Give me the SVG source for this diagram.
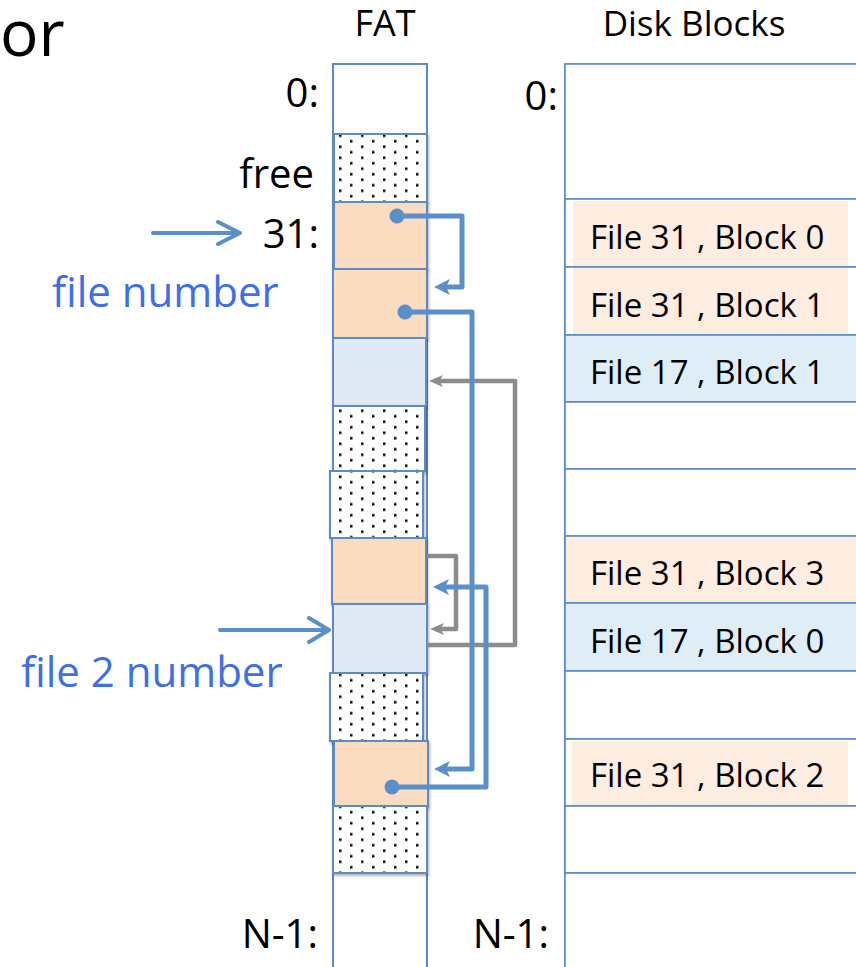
<svg xmlns="http://www.w3.org/2000/svg" width="856" height="967" viewBox="0 0 856 967">
<style>
.t{font-family:"Open Sans","Liberation Sans",sans-serif;fill:#000}
.blk{font-size:33px}
.lbl{font-size:40px;text-anchor:end}
.note{font-family:"Open Sans","Liberation Sans",sans-serif;font-size:42px;fill:#3F6FE8}
.cell{stroke:#5B8BC7;stroke-width:2}
.row{stroke:#5B8BC7;stroke-width:1.6}
.peach{fill:#FADCC0}
.blue{fill:#E1EAF4}
.dpeach{fill:#FDECE0}
.dblue{fill:#DEEDF6}
.cb{fill:none;stroke:#5B8FC9;stroke-width:5;stroke-linejoin:round}
.cg{fill:none;stroke:#8C8C8C;stroke-width:4.5;stroke-linejoin:round}
.ptr{fill:none;stroke:#5B8FC9;stroke-width:4;stroke-linecap:round;stroke-linejoin:round}
</style>
<defs>
<pattern id="dots" patternUnits="userSpaceOnUse" x="339" y="134.5" width="22" height="11">
<rect width="22" height="11" fill="#fff"/>
<rect x="0" y="0" width="2.5" height="2.5" fill="#000"/>
<rect x="11" y="5.5" width="2.5" height="2.5" fill="#000"/>
</pattern>
<filter id="sh" x="-10%" y="-10%" width="130%" height="140%">
<feDropShadow dx="1" dy="2" stdDeviation="1.5" flood-color="#000" flood-opacity="0.3"/>
</filter>
<marker id="ahB" markerUnits="userSpaceOnUse" viewBox="0 0 16 16" markerWidth="16" markerHeight="16" refX="6" refY="8" orient="auto">
<path d="M0,0 L16,8 L0,16 L4,8 z" fill="#5B8FC9"/>
</marker>
<marker id="ahG" markerUnits="userSpaceOnUse" viewBox="0 0 14 12" markerWidth="14" markerHeight="12" refX="5" refY="6" orient="auto">
<path d="M0,0 L14,6 L0,12 L3.5,6 z" fill="#8C8C8C"/>
</marker>
</defs>

<rect width="856" height="967" fill="#fff"/>

<g id="titles">
<text class="t" x="0" y="56" font-size="64">or</text>
<text class="t" x="385" y="36" font-size="36" text-anchor="middle">FAT</text>
<text class="t" x="694" y="36" font-size="35" text-anchor="middle">Disk Blocks</text>
</g>

<g id="fat">
<rect class="cell" x="333" y="64" width="94" height="920" fill="#fff"/>
<rect id="fat-free-1" class="cell" x="334" y="134" width="93" height="68" fill="url(#dots)" filter="url(#sh)"/>
<rect id="fat-31" class="cell peach" x="334" y="202" width="93" height="67" filter="url(#sh)"/>
<rect id="fat-31b1" class="cell peach" x="333" y="269" width="94" height="69" filter="url(#sh)"/>
<rect id="fat-17b1" class="cell blue" x="333" y="338" width="93" height="68" filter="url(#sh)"/>
<rect id="fat-free-2" class="cell" x="333" y="406" width="92" height="65" fill="url(#dots)" filter="url(#sh)"/>
<rect id="fat-free-3" class="cell" x="330" y="471" width="93" height="67" fill="url(#dots)" filter="url(#sh)"/>
<rect id="fat-31b3" class="cell peach" x="332" y="538" width="94" height="66" filter="url(#sh)"/>
<rect id="fat-17" class="cell blue" x="333" y="604" width="94" height="69" filter="url(#sh)"/>
<rect id="fat-free-4" class="cell" x="330" y="673" width="93" height="68" fill="url(#dots)" filter="url(#sh)"/>
<rect id="fat-31b2" class="cell peach" x="334" y="741" width="94" height="65" filter="url(#sh)"/>
<rect id="fat-free-5" class="cell" x="333" y="806" width="94" height="67" fill="url(#dots)" filter="url(#sh)"/>
</g>

<g id="fat-labels">
<text class="t lbl" x="319" y="107" font-size="37">0:</text>
<text class="t lbl" x="314" y="188">free</text>
<text class="t lbl" x="319" y="248">31:</text>
<text class="t lbl" x="318" y="948">N-1:</text>
</g>

<g id="disk">
<rect class="row" x="565" y="64" width="300" height="920" fill="#fff"/>
<rect id="d-0" class="row" x="565" y="64" width="300" height="135" fill="#fff"/>
<rect id="d-31b0" class="row" x="565" y="199" width="300" height="68" fill="#fff" filter="url(#sh)"/>
<rect class="dpeach" x="573" y="201" width="275" height="65"/>
<rect id="d-31b1" class="row" x="565" y="267" width="300" height="68" fill="#fff" filter="url(#sh)"/>
<rect class="dpeach" x="573" y="268" width="275" height="66"/>
<rect id="d-17b1" class="row dblue" x="565" y="335" width="300" height="67" filter="url(#sh)"/>
<rect id="d-e1" class="row" x="565" y="402" width="300" height="67" fill="#fff" filter="url(#sh)"/>
<rect id="d-e2" class="row" x="565" y="469" width="300" height="67" fill="#fff" filter="url(#sh)"/>
<rect id="d-31b3" class="row dpeach" x="565" y="536" width="300" height="67" filter="url(#sh)"/>
<rect id="d-17b0" class="row dblue" x="565" y="603" width="300" height="68" filter="url(#sh)"/>
<rect id="d-e3" class="row" x="565" y="671" width="300" height="68" fill="#fff" filter="url(#sh)"/>
<rect id="d-31b2" class="row" x="565" y="739" width="300" height="67" fill="#fff" filter="url(#sh)"/>
<rect class="dpeach" x="572" y="741" width="276" height="64"/>
<rect id="d-e4" class="row" x="565" y="806" width="300" height="67" fill="#fff" filter="url(#sh)"/>
<rect id="d-e5" class="row" x="565" y="873" width="300" height="110" fill="#fff"/>
<text class="t blk" x="590" y="249">File 31 , Block 0</text>
<text class="t blk" x="590" y="317">File 31 , Block 1</text>
<text class="t blk" x="590" y="384">File 17 , Block 1</text>
<text class="t blk" x="590" y="585">File 31 , Block 3</text>
<text class="t blk" x="590" y="653">File 17 , Block 0</text>
<text class="t blk" x="590" y="787">File 31 , Block 2</text>
</g>

<g id="disk-labels">
<text class="t lbl" x="558" y="110" font-size="37">0:</text>
<text class="t lbl" x="549" y="948">N-1:</text>
</g>

<g id="notes">
<text class="note" x="52" y="307">file number</text>
<text class="note" x="21" y="687">file 2 number</text>
</g>

<g id="connectors">
<path class="ptr" d="M153,233 H239 M218,222 L240,233 L218,244"/>
<path class="ptr" d="M220,630 H327 M309,618 L329,630 L309,642"/>
<path class="cg" d="M427,556 H456 V629 H439" marker-end="url(#ahG)"/>
<path class="cg" d="M427,645 H515 V381 H438" marker-end="url(#ahG)"/>
<path class="cb" d="M397,216 H462 V287 H444" marker-end="url(#ahB)"/>
<circle cx="397" cy="216" r="7.5" fill="#5B8FC9"/>
<path class="cb" d="M405,312 H472 V769 H444" marker-end="url(#ahB)"/>
<circle cx="405" cy="312" r="7.5" fill="#5B8FC9"/>
<path class="cb" d="M392,787 H486 V587 H443" marker-end="url(#ahB)"/>
<circle cx="392" cy="787" r="7.5" fill="#5B8FC9"/>
</g>
</svg>
